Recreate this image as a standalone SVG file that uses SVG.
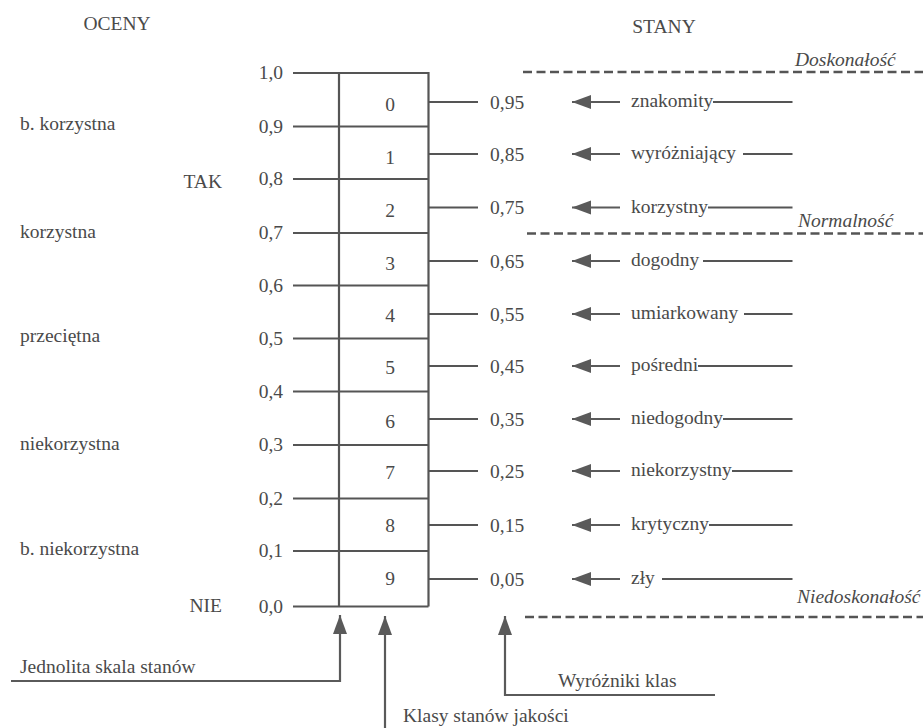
<svg xmlns="http://www.w3.org/2000/svg" width="923" height="728" viewBox="0 0 923 728">
<style>
text{font-family:"Liberation Serif","Times New Roman",serif;font-size:19.5px;fill:#4a4a4a}
.it{font-style:italic}
.e{text-anchor:end}
.m{text-anchor:middle}
.ln{stroke:#555;stroke-width:2.2;fill:none}
.lt{stroke:#555;stroke-width:1.8;fill:none}
.ds{stroke:#555;stroke-width:2.5;stroke-dasharray:9 4.5;fill:none}
.ar{stroke:#5a5a5a;stroke-width:2.2;fill:none}
.arh{marker-end:url(#ah)}
</style>
<defs>
<marker id="ah" markerUnits="userSpaceOnUse" markerWidth="19" markerHeight="15" refX="19" refY="7.5" orient="auto">
<path d="M0,0.5 L19,7.5 L0,14.5 Z" fill="#5a5a5a"/>
</marker>
</defs>
<rect width="923" height="728" fill="#fff"/>

<g id="headers">
<text x="117" y="30" class="m">OCENY</text>
<text x="664" y="33" class="m">STANY</text>
</g>

<g id="oceny">
<text x="20" y="130">b. korzystna</text>
<text x="20" y="237.5">korzystna</text>
<text x="20" y="342">przeciętna</text>
<text x="20" y="450">niekorzystna</text>
<text x="20" y="555">b. niekorzystna</text>
<text x="222" y="188" class="e">TAK</text>
<text x="222" y="612" class="e">NIE</text>
</g>

<g id="scale">
<path class="ln" d="M293,73H428.5V606.5 M339,73V606.5 M293,126.5H428.5 M293,179H428.5 M293,233H428.5 M293,285.5H428.5 M293,338.5H428.5 M293,391.5H428.5 M293,445H428.5 M293,498.5H428.5 M293,551H428.5 M293,606.5H428.5"/>
<text x="283" y="79" class="e">1,0</text>
<text x="283" y="132.5" class="e">0,9</text>
<text x="283" y="185" class="e">0,8</text>
<text x="283" y="239" class="e">0,7</text>
<text x="283" y="291.5" class="e">0,6</text>
<text x="283" y="344.5" class="e">0,5</text>
<text x="283" y="397.5" class="e">0,4</text>
<text x="283" y="451" class="e">0,3</text>
<text x="283" y="504.5" class="e">0,2</text>
<text x="283" y="557" class="e">0,1</text>
<text x="283" y="612.5" class="e">0,0</text>
</g>

<g id="klasy">
<text x="390" y="110.5" class="m">0</text>
<text x="390" y="164" class="m">1</text>
<text x="390" y="216.5" class="m">2</text>
<text x="390" y="270" class="m">3</text>
<text x="390" y="322" class="m">4</text>
<text x="390" y="374" class="m">5</text>
<text x="390" y="427.5" class="m">6</text>
<text x="390" y="479" class="m">7</text>
<text x="390" y="532" class="m">8</text>
<text x="390" y="585" class="m">9</text>
</g>

<g id="wyrozniki">
<path class="ln" d="M428.5,102H478 M428.5,154H478 M428.5,207.5H478 M428.5,261H478 M428.5,314H478 M428.5,366H478 M428.5,419H478 M428.5,471H478 M428.5,525H478 M428.5,579H478"/>
<text x="490" y="108.5">0,95</text>
<text x="490" y="160.5">0,85</text>
<text x="490" y="214">0,75</text>
<text x="490" y="267.5">0,65</text>
<text x="490" y="320.5">0,55</text>
<text x="490" y="372.5">0,45</text>
<text x="490" y="425.5">0,35</text>
<text x="490" y="477.5">0,25</text>
<text x="490" y="531.5">0,15</text>
<text x="490" y="585.5">0,05</text>
</g>

<g id="stany">
<text x="631" y="107">znakomity</text>
<text x="631" y="159">wyróżniający</text>
<text x="631" y="212.5">korzystny</text>
<text x="631" y="266">dogodny</text>
<text x="631" y="319">umiarkowany</text>
<text x="631" y="371">pośredni</text>
<text x="631" y="424">niedogodny</text>
<text x="631" y="476">niekorzystny</text>
<text x="631" y="530">krytyczny</text>
<text x="631" y="584">zły</text>
<path class="lt" d="M713,102H792.5 M743,154H792.5 M708,207.5H792.5 M703,261H792.5 M744,314H792.5 M698,366H792.5 M723,419H792.5 M732,471H792.5 M709,525H792.5 M662,579H792.5"/>
</g>

<g id="poziomy">
<path class="ds" d="M523,72H923 M527,233.5H923 M525,617H923"/>
<text x="795" y="66" class="it">Doskonałość</text>
<text x="798" y="227" class="it">Normalność</text>
<text x="797" y="603" class="it">Niedoskonałość</text>
</g>

<g id="connectors">
<path class="ar arh" d="M620,102H572"/>
<path class="ar arh" d="M620,154H572"/>
<path class="ar arh" d="M620,207.5H572"/>
<path class="ar arh" d="M620,261H572"/>
<path class="ar arh" d="M620,314H572"/>
<path class="ar arh" d="M620,366H572"/>
<path class="ar arh" d="M620,419H572"/>
<path class="ar arh" d="M620,471H572"/>
<path class="ar arh" d="M620,525H572"/>
<path class="ar arh" d="M620,579H572"/>
<path class="ar arh" d="M11,681H340V615"/>
<path class="ar arh" d="M385,728V616"/>
<path class="ar arh" d="M715,695H505V616"/>
</g>

<g id="podpisy">
<text x="20" y="673">Jednolita skala stanów</text>
<text x="403" y="722">Klasy stanów jakości</text>
<text x="558" y="687">Wyróżniki klas</text>
</g>
</svg>
